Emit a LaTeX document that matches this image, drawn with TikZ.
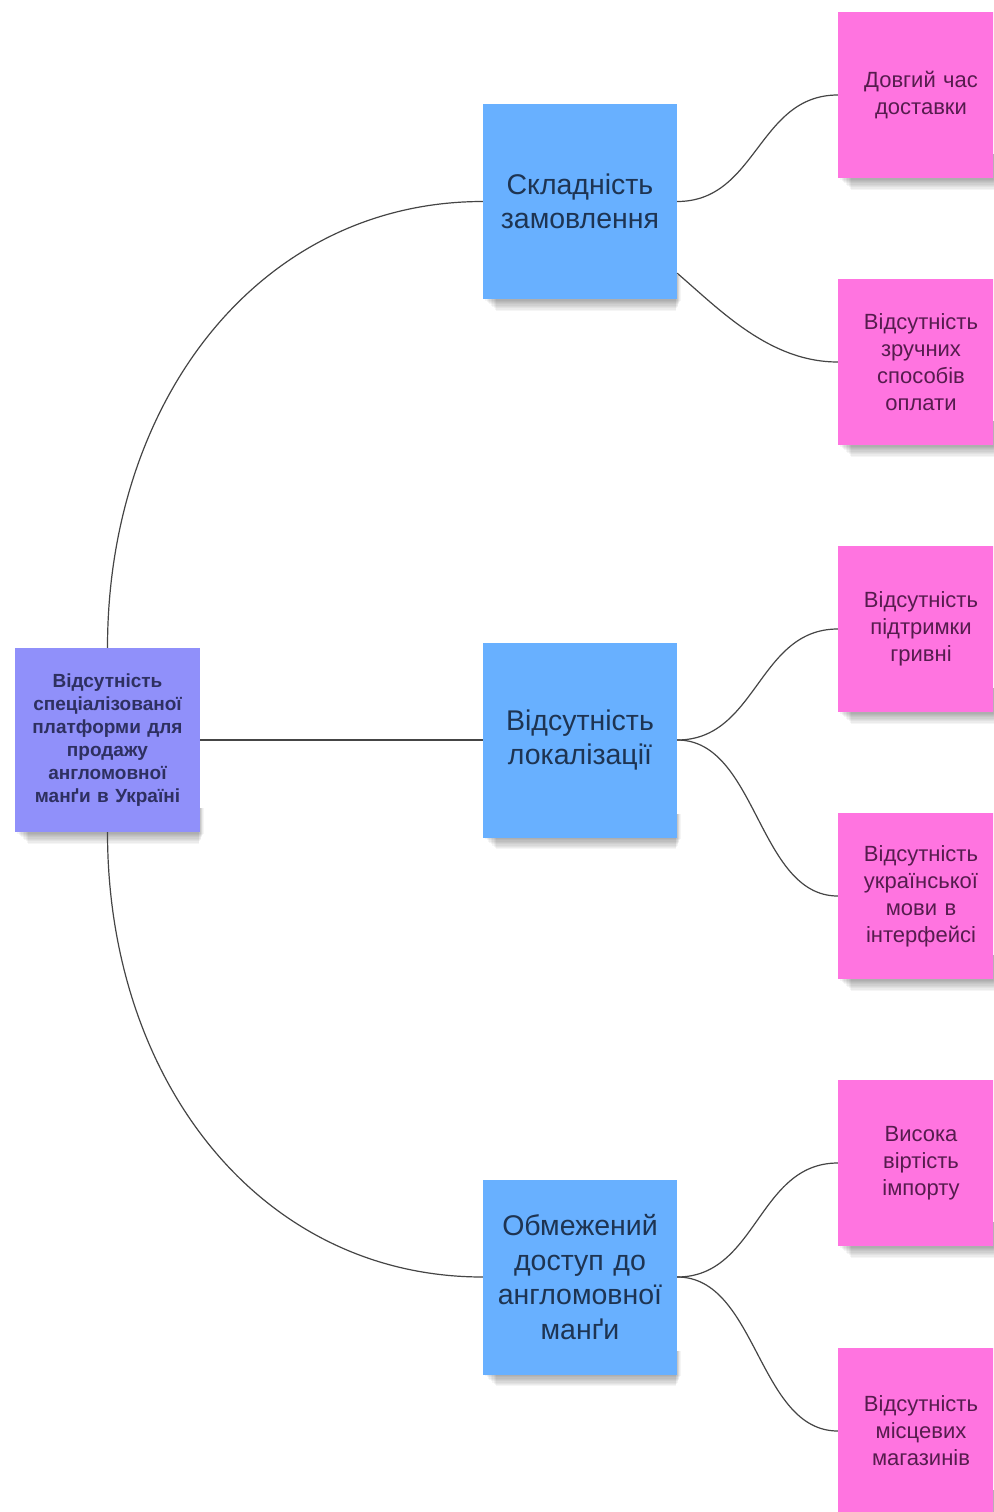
\documentclass[tikz,border=0pt]{standalone}
\usepackage{fontspec}
\setmainfont{Liberation Sans}
\usetikzlibrary{calc}

\definecolor{rootfill}{HTML}{9090FA}
\definecolor{rootink}{HTML}{2E3060}
\definecolor{bluefill}{HTML}{68B0FF}
\definecolor{blueink}{HTML}{1E3452}
\definecolor{pinkfill}{HTML}{FF74E0}
\definecolor{pinkink}{HTML}{561C4E}
\definecolor{wire}{HTML}{454545}

\pgfdeclarelayer{shade}
\pgfsetlayers{shade,main}

\tikzset{
  note/.style={rectangle, inner sep=0pt, align=center},
  rootbox/.style={note, fill=rootfill, text=rootink,
    minimum width=185pt, minimum height=184pt, text width=178pt,
    font=\fontsize{19}{23}\selectfont\bfseries},
  bluebox/.style={note, fill=bluefill, text=blueink,
    minimum width=194pt, minimum height=195pt, text width=188pt,
    font=\fontsize{28.5}{34.5}\selectfont},
  pinkbox/.style={note, fill=pinkfill, text=pinkink,
    minimum width=166pt, minimum height=166pt, text width=160pt,
    font=\fontsize{22}{27}\selectfont},
  wireline/.style={draw=wire, line width=1.2pt},
  shadestep/.style={fill=black, opacity=0.038}
}

\begin{document}
\begin{tikzpicture}[x=1pt, y=-1pt]
\useasboundingbox (0,0) rectangle (993,1512);
\clip (0,0) rectangle (993,1512);

% box centres
\path
  (107.5,740) coordinate (cr)
  (580,201.5) coordinate (c1)
  (580,740)   coordinate (c2)
  (580,1277)  coordinate (c3)
  (921,95)    coordinate (d1)
  (921,362)   coordinate (d2)
  (921,629)   coordinate (d3)
  (921,896)   coordinate (d4)
  (921,1163)  coordinate (d5)
  (921,1431)  coordinate (d6);

% root problem
\node[rootbox] (root) at (cr) {Відсутність\\спеціалізованої\\платформи для\\продажу\\англомовної\\манґи в Україні};

% causes
\node[bluebox] (b1) at (c1) {Складність\\замовлення};
\node[bluebox] (b2) at (c2) {Відсутність\\локалізації};
\node[bluebox] (b3) at (c3) {Обмежений\\доступ до\\англомовної\\манґи};

% sub-causes
\node[pinkbox] (p1) at (d1) {Довгий час\\доставки\\[16pt]};
\node[pinkbox] (p2) at (d2) {Відсутність\\зручних\\способів\\оплати\\[16pt]};
\node[pinkbox] (p3) at (d3) {Відсутність\\підтримки\\гривні\\[16pt]};
\node[pinkbox] (p4) at (d4) {Відсутність\\української\\мови в\\інтерфейсі\\[16pt]};
\node[pinkbox] (p5) at (d5) {Висока\\віртість\\імпорту\\[16pt]};
\node[pinkbox] (p6) at (d6) {Відсутність\\місцевих\\магазинів\\[16pt]};

% white page and soft shadows under the notes
\begin{pgfonlayer}{shade}
  \fill[white] (0,0) rectangle (993,1512);
  \foreach \n in {root,b1,b2,b3,p1,p2,p3,p4,p5,p6} {
    \foreach \k in {1,...,9} {
      \fill[shadestep] ($(\n.south west)+(1+1.4*\k,-24)$)
        rectangle ($(\n.south east)+(4-0.6*\k,1.3*\k)$);
    }
  }
\end{pgfonlayer}

% wires from the root
\path[wireline] (root.north) .. controls +(0,-248) and +(-223,0) .. (b1.west);
\path[wireline] (root.east) -- (b2.west);
\path[wireline] (root.south) .. controls +(0,248) and +(-223,0) .. (b3.west);

% wires to the sub-causes
\coordinate (b1low) at ($(b1.south east)+(0,-26)$);
\path[wireline] (b1.east) .. controls +(80,0) and +(-80,0) .. (p1.west);
\path[wireline] (b1low) .. controls +(43,37) and +(-68,0) .. (p2.west);
\path[wireline] (b2.east) .. controls +(80,0) and +(-80,0) .. (p3.west);
\path[wireline] (b2.east) .. controls +(80,0) and +(-80,0) .. (p4.west);
\path[wireline] (b3.east) .. controls +(80,0) and +(-80,0) .. (p5.west);
\path[wireline] (b3.east) .. controls +(80,0) and +(-80,0) .. (p6.west);
\end{tikzpicture}
\end{document}
